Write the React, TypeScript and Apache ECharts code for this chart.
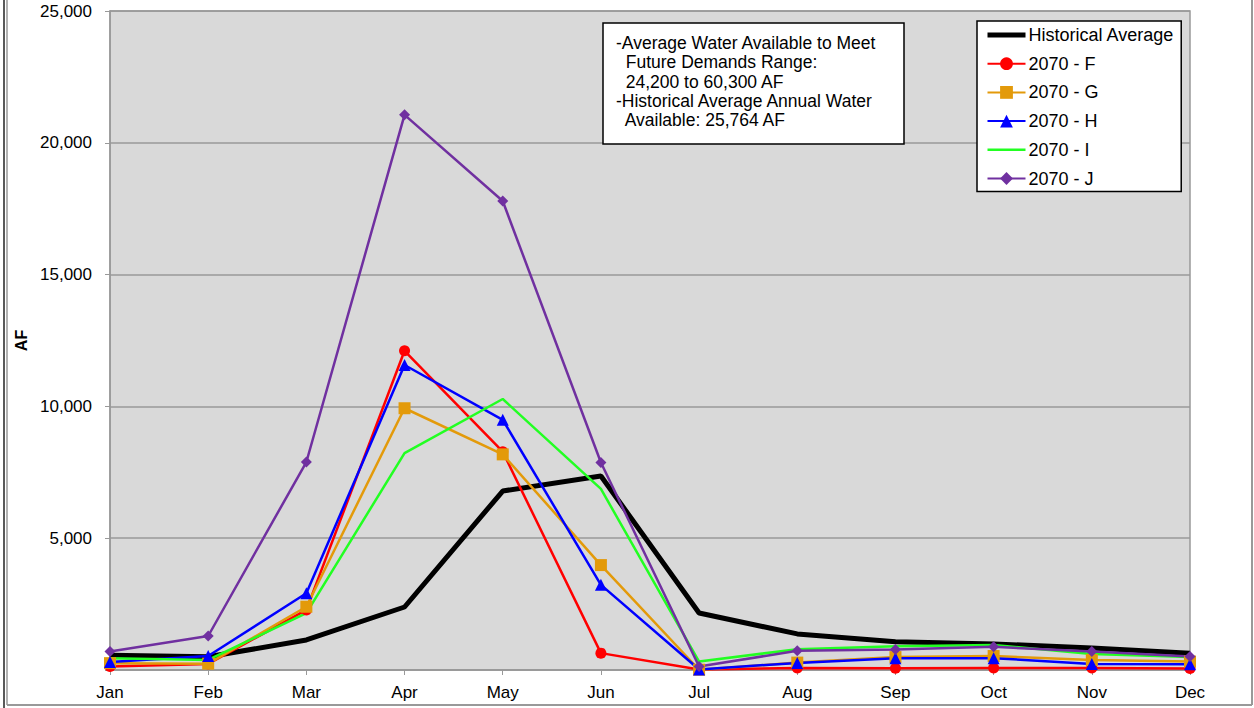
import React, { useEffect, useRef } from "react";
import * as echarts from "echarts";

const months = ["Jan", "Feb", "Mar", "Apr", "May", "Jun", "Jul", "Aug", "Sep", "Oct", "Nov", "Dec"];
const historicalAverage = [560, 500, 1140, 2390, 6790, 7360, 2160, 1370, 1070, 990, 830, 640];
const f2070F = [130, 230, 2280, 12110, 8280, 640, 20, 80, 70, 80, 80, 60];
const f2070G = [260, 240, 2400, 9930, 8180, 3980, 10, 280, 490, 530, 380, 320];
const f2070H = [300, 530, 2910, 11570, 9490, 3230, 20, 270, 450, 450, 230, 220];
const f2070I = [450, 380, 2160, 8230, 10280, 6870, 320, 790, 900, 950, 610, 490];
const f2070J = [700, 1290, 7890, 21060, 17790, 7870, 130, 730, 780, 880, 700, 510];
const noteLines = [
  "-Average Water Available to Meet",
  "  Future Demands Range:",
  "  24,200 to 60,300 AF",
  "-Historical Average Annual Water",
  "  Available: 25,764 AF",
];

const FONT = "'Liberation Sans', Arial, sans-serif";

export default function App() {
  const ref = useRef<HTMLDivElement>(null);
  useEffect(() => {
    if (!ref.current) return;
    const chart = echarts.init(ref.current, null, { renderer: "svg" });
    const mk = (name: string, data: number[], color: string, symbol: string, size: number, width: number) => ({
      name,
      type: "line",
      data,
      symbol,
      symbolSize: size,
      showSymbol: symbol !== "none",
      lineStyle: { color, width },
      itemStyle: { color },
      emphasis: { disabled: true },
    });
    chart.setOption({
      animation: false,
      textStyle: { fontFamily: FONT },
      grid: {
        left: 110,
        right: 64,
        top: 11,
        bottom: 38,
        show: true,
        backgroundColor: "#D9D9D9",
        borderColor: "#999999",
        borderWidth: 1.5,
      },
      xAxis: {
        type: "category",
        data: months,
        boundaryGap: false,
        axisLine: { lineStyle: { color: "#999999", width: 1.5 } },
        axisTick: { show: true, length: 5, lineStyle: { color: "#999999" } },
        axisLabel: { color: "#000", fontSize: 17, fontFamily: FONT, margin: 14 },
        splitLine: { show: false },
      },
      yAxis: {
        type: "value",
        min: 0,
        max: 25000,
        interval: 5000,
        name: "AF",
        nameLocation: "middle",
        nameGap: 70,
        nameTextStyle: { color: "#000", fontSize: 16, fontWeight: "bold", fontFamily: FONT },
        axisLine: { show: true, lineStyle: { color: "#999999", width: 1.5 } },
        axisTick: { show: true, length: 5, lineStyle: { color: "#999999" } },
        axisLabel: {
          color: "#000",
          fontSize: 17,
          fontFamily: FONT,
          margin: 18,
          formatter: (v: number) => (v === 0 ? "" : v.toLocaleString("en-US")),
        },
        splitLine: { show: true, lineStyle: { color: "#999999", width: 1.5 } },
      },
      legend: {
        orient: "vertical",
        left: 977,
        top: 21,
        padding: [5, 7, 4, 8],
        itemWidth: 38,
        itemHeight: 16,
        itemGap: 10.7,
        backgroundColor: "#FFFFFF",
        borderColor: "#000000",
        borderWidth: 1.5,
        textStyle: { color: "#000", fontSize: 18, lineHeight: 18, fontFamily: FONT, padding: [0, 0, 0, -2] },
        data: [
          { name: "Historical Average", itemStyle: { opacity: 0 }, lineStyle: { width: 5, color: "#000" } },
          { name: "2070 - F", itemStyle: { color: "#FF0000" } },
          { name: "2070 - G", itemStyle: { color: "#E39A0A" } },
          { name: "2070 - H", itemStyle: { color: "#0000FF" } },
          { name: "2070 - I", itemStyle: { opacity: 0 }, lineStyle: { width: 2.5, color: "#22FF22" } },
          { name: "2070 - J", itemStyle: { color: "#7030A0" } },
        ],
      },
      graphic: [
        {
          type: "rect",
          shape: { x: 603, y: 23, width: 301, height: 121 },
          style: { fill: "#FFFFFF", stroke: "#000000", lineWidth: 1.5 },
          z: 100,
        },
        {
          type: "text",
          x: 616,
          y: 33,
          style: {
            text: noteLines.join("\n"),
            font: `17.5px ${FONT}`,
            fill: "#000",
            lineHeight: 19.4,
          },
          z: 101,
        },
        { type: "line", shape: { x1: 4, y1: 0, x2: 4, y2: 708 }, style: { stroke: "#222", lineWidth: 1.5 } },
        { type: "line", shape: { x1: 7, y1: 0, x2: 7, y2: 705 }, style: { stroke: "#999", lineWidth: 1.5 } },
        { type: "line", shape: { x1: 7, y1: 705, x2: 1252, y2: 705 }, style: { stroke: "#999", lineWidth: 2 } },
        { type: "line", shape: { x1: 1252, y1: 0, x2: 1252, y2: 705 }, style: { stroke: "#999", lineWidth: 2 } },
      ],
      series: [
        mk("Historical Average", historicalAverage, "#000000", "none", 0, 5),
        mk("2070 - F", f2070F, "#FF0000", "circle", 11, 2.5),
        mk("2070 - G", f2070G, "#E39A0A", "rect", 12, 2.5),
        mk("2070 - H", f2070H, "#0000FF", "triangle", 12, 2.5),
        mk("2070 - I", f2070I, "#22FF22", "none", 0, 2.5),
        mk("2070 - J", f2070J, "#7030A0", "diamond", 11, 2.5),
      ],
    });
    return () => chart.dispose();
  }, []);
  return <div ref={ref} style={{ position: "absolute", left: 0, top: 0, width: 1254, height: 708 }} />;
}
